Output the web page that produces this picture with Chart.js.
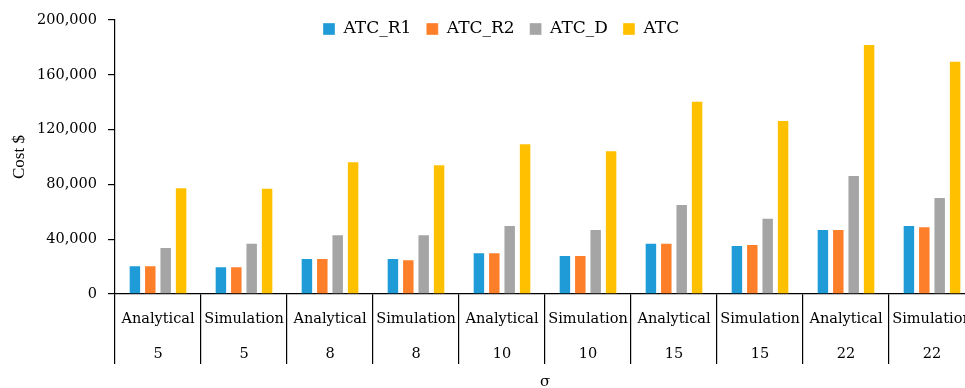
<!DOCTYPE html>
<html lang="en">
<head>
  <meta charset="UTF-8">
  <title>Cost by sigma</title>
  <script src="https://cdn.jsdelivr.net/npm/chart.js"></script>
  <style>
    html, body {
      margin: 0;
      padding: 0;
      background: #fff;
      overflow: hidden;
    }

    .frame {
      width: 965px;
      height: 388px;
      overflow: hidden;
    }
  </style>
</head>
<body>
  <div class="frame">
    <canvas id="cost-chart" width="975" height="388"></canvas>
  </div>

  <script>
    const methods = ["Analytical", "Simulation", "Analytical", "Simulation", "Analytical",
                     "Simulation", "Analytical", "Simulation", "Analytical", "Simulation"];
    const sigmas = ["5", "5", "8", "8", "10", "10", "15", "15", "22", "22"];

    const atcR1 = [21000, 20200, 26300, 26300, 30400, 28500, 37500, 35800, 47500, 50400];
    const atcR2 = [21000, 20200, 26300, 25300, 30400, 28500, 37500, 36500, 47500, 49400];
    const atcD  = [34300, 37500, 43600, 43600, 50400, 47500, 65700, 55700, 86900, 70800];
    const atc   = [77900, 77500, 96900, 94700, 110000, 104900, 141100, 127000, 182500, 170300];

    const yTicks = [0, 40000, 80000, 120000, 160000, 200000];

    const serif = "'DejaVu Serif', serif";

    // the legend sits over the top of the plot in the original, so move it
    // there after layout (the negative top padding gives its space back)
    const legendPlace = {
      id: "legendPlace",
      afterLayout(chart) {
        const lg = chart.legend;
        const w = lg.right - lg.left;
        const h = lg.bottom - lg.top;
        lg.left = 308;
        lg.right = lg.left + w;
        lg.top = 5.5;
        lg.bottom = lg.top + h;
      }
    };

    function bars(label, data, color) {
      return {
        label: label,
        data: data,
        backgroundColor: color,
        borderColor: "rgba(255,255,255,0.35)",
        borderWidth: 1,
        categoryPercentage: 0.716,
        barPercentage: 0.81
      };
    }

    new Chart(document.getElementById("cost-chart"), {
      type: "bar",
      data: {
        labels: methods.map((m, i) => [m, sigmas[i]]),
        datasets: [
          bars("ATC_R1", atcR1, "#1F9BD7"),
          bars("ATC_R2", atcR2, "#FE7F2A"),
          bars("ATC_D", atcD, "#A5A5A5"),
          bars("ATC", atc, "#FFC000")
        ]
      },
      options: {
        responsive: false,
        animation: false,
        devicePixelRatio: 1,
        layout: { padding: { left: 0, right: 0, top: -22, bottom: 0 } },
        plugins: {
          tooltip: { enabled: false },
          legend: {
            position: "top",
            align: "start",
            labels: {
              boxWidth: 12,
              boxHeight: 12,
              padding: 15,
              color: "#000",
              font: { family: serif, size: 17 }
            }
          }
        },
        scales: {
          x: {
            offset: true,
            afterFit: (scale) => { scale.height = 94; },
            grid: {
              offset: true,
              drawOnChartArea: false,
              drawTicks: true,
              tickLength: 70,
              color: "#000",
              lineWidth: 1.2
            },
            border: { display: true, color: "#000", width: 1.2 },
            ticks: {
              autoSkip: false,
              maxRotation: 0,
              minRotation: 0,
              padding: -62,
              color: "#000",
              font: { family: serif, size: 14.5, lineHeight: 2.4 }
            },
            title: {
              display: true,
              text: "σ",
              color: "#000",
              padding: { top: 0, bottom: -2 },
              font: { family: serif, size: 15, lineHeight: 1 }
            }
          },
          y: {
            min: 0,
            max: 200000,
            afterFit: (scale) => { scale.width = 115; },
            afterBuildTicks: (scale) => {
              scale.ticks = yTicks.map((v) => ({ value: v }));
            },
            grid: {
              drawOnChartArea: false,
              drawTicks: true,
              tickLength: 7,
              color: "#000",
              lineWidth: 1.2
            },
            border: { display: true, color: "#000", width: 1.2 },
            ticks: {
              padding: 11,
              color: "#000",
              font: { family: serif, size: 14.5 },
              callback: (v) => v.toLocaleString("en-US")
            },
            title: {
              display: true,
              text: "Cost $",
              color: "#000",
              padding: { top: 11, bottom: 0 },
              font: { family: "'Liberation Serif', serif", size: 17, lineHeight: 1 }
            }
          }
        }
      },
      plugins: [legendPlace]
    });
  </script>
</body>
</html>
